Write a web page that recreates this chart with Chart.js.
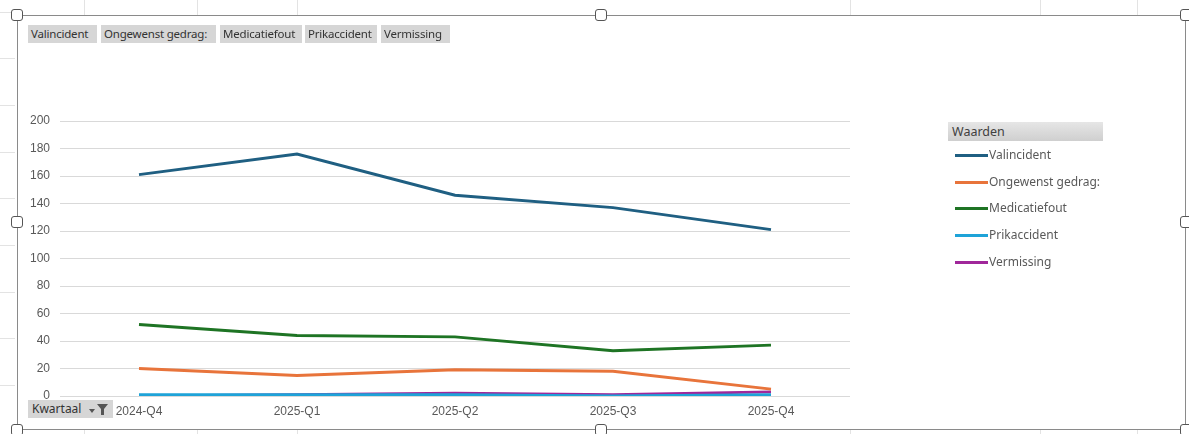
<!DOCTYPE html>
<html>
<head>
<meta charset="utf-8">
<script src="https://cdn.jsdelivr.net/npm/chart.js@4"></script>
<style>
  html, body { margin: 0; padding: 0; background: #fff; }
  #wrap { position: relative; width: 1189px; height: 434px; overflow: hidden; font-family: "Noto Sans", sans-serif; }
  #chart { position: absolute; left: 0; top: 0; }
  .frame { position: absolute; left: 17px; top: 15px; width: 1169px; height: 415px; border: 1.5px solid #8a8a8a; box-sizing: border-box; pointer-events: none; }
  .handle { position: absolute; width: 10px; height: 10px; margin: -6px 0 0 -6px; border: 1.5px solid #555; border-radius: 3px; background: #fff; }
  .cell { position: absolute; background: #e3e3e3; }
  .btn { position: absolute; top: 25px; height: 18px; line-height: 18px; background: #d6d6d6; color: #333; font-size: 11.5px; letter-spacing: -0.2px; padding: 0 3px; box-sizing: border-box; white-space: nowrap; overflow: hidden; }
  #legend { position: absolute; left: 948px; top: 122px; }
  #legend .head { width: 155px; height: 19px; line-height: 19px; background: linear-gradient(#e6e6e6, #cfcfcf); color: #404040; font-size: 12.5px; padding-left: 4px; box-sizing: border-box; }
  #legend .item { position: relative; height: 26.7px; font-size: 12px; color: #595959; }
  #legend .item span.ln { position: absolute; left: 7px; top: 13px; width: 33px; height: 3px; }
  #legend .item span.tx { position: absolute; left: 41px; top: 5px; }
  #kw { position: absolute; left: 28px; top: 400px; width: 85px; height: 18px; line-height: 18px; background: #d6d6d6; color: #333; font-size: 12px; padding-left: 4px; box-sizing: border-box; }
</style>
</head>
<body>
<div id="wrap">
  <canvas id="chart" width="1189" height="434"></canvas>
  <div id="cells"></div>
  <div class="frame"></div>
  <div id="buttons"></div>
  <div id="legend"><div class="head">Waarden</div></div>
  <div id="kw">Kwartaal
    <svg width="22" height="14" style="position:absolute;left:60px;top:3px">
      <path d="M1 6 L7 6 L4 10 Z" fill="#555"/>
      <path d="M9 1 L20 1 L16 6 L16 12 L13 12 L13 6 Z" fill="#555"/>
    </svg>
  </div>
  <div id="handles"></div>
</div>
<script>
// Kwartalen en aantallen per type incident
const quarters = ["2024-Q4", "2025-Q1", "2025-Q2", "2025-Q3", "2025-Q4"];
const valincident = [161, 176, 146, 137, 121];
const ongewenstGedrag = [20, 15, 19, 18, 5];
const medicatiefout = [52, 44, 43, 33, 37];
const prikaccident = [1, 1, 1, 0, 1];
const vermissing = [0, 1, 2, 1, 3];
const yTicks = [0, 20, 40, 60, 80, 100, 120, 140, 160, 180, 200];

const seriesNames = ["Valincident", "Ongewenst gedrag:", "Medicatiefout", "Prikaccident", "Vermissing"];
const seriesData = [valincident, ongewenstGedrag, medicatiefout, prikaccident, vermissing];
const colors = ["#1f5f82", "#e8743b", "#1e7424", "#1ea3d8", "#a0279a"];

// filter buttons on top
const btnPos = [[28, 69], [101, 115], [220, 82], [305, 72], [381, 69]];
const btns = document.getElementById('buttons');
seriesNames.forEach((n, i) => {
  const b = document.createElement('div');
  b.className = 'btn';
  b.style.left = btnPos[i][0] + 'px';
  b.style.width = btnPos[i][1] + 'px';
  b.innerText = n;
  btns.appendChild(b);
});

// legend
const legend = document.getElementById('legend');
seriesNames.forEach((n, i) => {
  const it = document.createElement('div');
  it.className = 'item';
  it.innerHTML = `<span class="ln" style="background:${colors[i]}"></span><span class="tx">${n}</span>`;
  legend.appendChild(it);
});

// selection handles
const hs = document.getElementById('handles');
[[17, 15], [601, 15], [1186, 15], [17, 222], [1186, 222], [17, 430], [601, 430], [1186, 430]].forEach(p => {
  const h = document.createElement('div');
  h.className = 'handle';
  h.style.left = p[0] + 'px';
  h.style.top = p[1] + 'px';
  hs.appendChild(h);
});

// faint spreadsheet cell lines outside the frame
const cells = document.getElementById('cells');
[84, 197, 297, 850, 1040, 1137].forEach(x => {
  const a = document.createElement('div');
  a.className = 'cell';
  a.style.cssText = `left:${x}px;top:0;width:1px;height:15px`;
  cells.appendChild(a);
  const b = document.createElement('div');
  b.className = 'cell';
  b.style.cssText = `left:${x}px;top:430px;width:1px;height:4px`;
  cells.appendChild(b);
});
[12, 58, 105, 152, 198, 245, 292, 338, 385].forEach(y => {
  const c = document.createElement('div');
  c.className = 'cell';
  c.style.cssText = `left:0;top:${y}px;width:15px;height:1px`;
  cells.appendChild(c);
});

const ctx = document.getElementById('chart').getContext('2d');
new Chart(ctx, {
  type: 'line',
  data: {
    labels: quarters,
    datasets: seriesNames.map((n, i) => ({
      label: n,
      data: seriesData[i],
      borderColor: colors[i],
      backgroundColor: colors[i],
      borderWidth: 3,
      pointRadius: 0,
      tension: 0
    }))
  },
  options: {
    responsive: false,
    animation: false,
    layout: { padding: { left: 20, right: 339, top: 121, bottom: 0 } },
    plugins: { legend: { display: false }, tooltip: { enabled: false } },
    scales: {
      x: {
        offset: true,
        grid: { display: false, drawTicks: false },
        border: { display: false },
        ticks: { color: '#595959', font: { family: 'Liberation Sans', size: 12 }, padding: 8 },
        afterFit: s => { s.height = 38; }
      },
      y: {
        min: 0,
        max: 200,
        afterBuildTicks: s => { s.ticks = yTicks.map(v => ({ value: v })); },
        grid: { color: '#d9d9d9', drawTicks: false },
        border: { display: false },
        ticks: { color: '#595959', font: { family: 'Liberation Sans', size: 12 }, padding: 10 },
        afterFit: s => { s.width = 40; }
      }
    }
  }
});
</script>
</body>
</html>
